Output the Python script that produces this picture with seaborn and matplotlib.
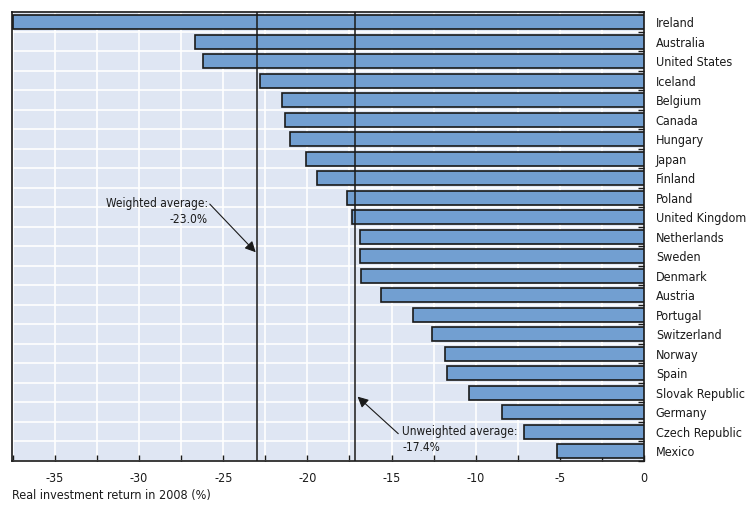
import matplotlib
matplotlib.use("Agg")
import matplotlib.pyplot as plt
from matplotlib.ticker import MultipleLocator, FixedLocator
import seaborn as sns
import pandas as pd
from matplotlib import font_manager

countries = ["Ireland", "Australia", "United States", "Iceland", "Belgium", "Canada",
             "Hungary", "Japan", "Finland", "Poland", "United Kingdom", "Netherlands",
             "Sweden", "Denmark", "Austria", "Portugal", "Switzerland", "Norway", "Spain",
             "Slovak Republic", "Germany", "Czech Republic", "Mexico"]
returns = [-37.5, -26.7, -26.2, -22.8, -21.5, -21.35, -21.05, -20.1, -19.4, -17.65,
           -17.35, -16.85, -16.85, -16.8, -15.65, -13.75, -12.6, -11.8, -11.7,
           -10.4, -8.45, -7.15, -5.15]
weighted_avg = -23.0
unweighted_avg_line = -17.2
weighted_label = "Weighted average:\n-23.0%"
unweighted_label = "Unweighted average:\n-17.4%"
xlabel = "Real investment return in 2008 (%)"

sns.set_theme(style="white")
names = {f.name for f in font_manager.fontManager.ttflist}
if "Liberation Sans Narrow" in names:
    plt.rcParams["font.family"] = ["Liberation Sans Narrow", "DejaVu Sans"]
else:
    plt.rcParams["font.family"] = ["DejaVu Sans"]
    plt.rcParams["font.stretch"] = "condensed"
fs = 9
afs = 8.6

df = pd.DataFrame({"country": countries, "value": returns})

fig = plt.figure(figsize=(7.51, 5.16), dpi=100)
ax = fig.add_axes([12/751, 1 - 461/516, (644 - 12)/751, (461 - 12.3)/516])
ax.set_facecolor("#dfe6f3")

sns.barplot(data=df, x="value", y="country", orient="h", color="#729fd1",
            saturation=1, width=0.72, edgecolor="#1a1a1a", linewidth=1.2, ax=ax, zorder=3)

ax.set_xlim(-37.55, 0)
ax.set_ylim(len(countries) - 0.5, -0.5)

ax.xaxis.set_major_locator(MultipleLocator(5))
ax.xaxis.set_minor_locator(MultipleLocator(2.5))
ax.yaxis.set_minor_locator(FixedLocator([i + 0.5 for i in range(-1, len(countries))]))
ax.grid(which="minor", color="white", lw=1.2, zorder=0)
ax.grid(which="major", axis="x", color="white", lw=1.2, zorder=0)
ax.set_axisbelow(True)

ax.yaxis.tick_right()
ax.tick_params(axis="y", which="major", length=0, pad=8.5, labelsize=fs)
ax.tick_params(axis="y", which="minor", direction="in", length=4, width=1, color="#1a1a1a",
               left=False, right=True)
ax.tick_params(axis="x", which="both", direction="in", length=4.5, width=1, color="#1a1a1a",
               labelsize=fs, pad=8, bottom=True, top=False)
ax.set_xticklabels([f"{int(v)}" for v in ax.get_xticks()])
ax.set_ylabel("")
ax.set_xlabel(xlabel, fontsize=fs, ha="left", x=0, labelpad=3, color="#1a1a1a")
for lbl in ax.get_xticklabels() + ax.get_yticklabels():
    lbl.set_color("#1a1a1a")

for s in ax.spines.values():
    s.set_color("#1a1a1a")
    s.set_linewidth(1.2)

ax.axvline(weighted_avg, color="#1a1a1a", lw=1.1, zorder=4)
ax.axvline(unweighted_avg_line, color="#1a1a1a", lw=1.1, zorder=4)

ax.text(-25.9, 9.7, weighted_label, ha="right", va="center", fontsize=afs,
        color="#1a1a1a", linespacing=1.35, multialignment="right", zorder=5)
ax.annotate("", xy=(-23.07, 11.8), xytext=(-25.8, 9.33),
            arrowprops=dict(arrowstyle="-|>", color="#1a1a1a", lw=0.8, mutation_scale=16,
                            shrinkA=0, shrinkB=0), zorder=5)
ax.text(-14.35, 21.4, unweighted_label, ha="left", va="center", fontsize=afs,
        color="#1a1a1a", linespacing=1.35, zorder=5)
ax.annotate("", xy=(-17.02, 19.2), xytext=(-14.6, 21.1),
            arrowprops=dict(arrowstyle="-|>", color="#1a1a1a", lw=0.8, mutation_scale=16,
                            shrinkA=0, shrinkB=0), zorder=5)

fig.savefig("out.png", dpi=100)
